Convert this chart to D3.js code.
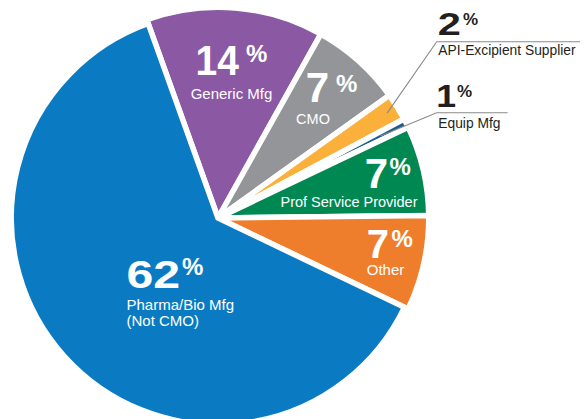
<!DOCTYPE html>
<html>
<head>
<meta charset="utf-8">
<script src="https://cdn.jsdelivr.net/npm/d3@7"></script>
<style>
  html, body { margin: 0; padding: 0; background: #fff; }
  svg { display: block; }
  text { font-family: "Liberation Sans", Arial, Helvetica, sans-serif; }
</style>
</head>
<body>
<svg id="chart" width="584" height="419"></svg>
<script>
// ---- data ----
const categories = ["Generic Mfg", "CMO", "API-Excipient Supplier", "Equip Mfg",
                    "Prof Service Provider", "Other", "Pharma/Bio Mfg (Not CMO)"];
const shares = [13.6, 7.0, 2.1, 0.7, 6.9, 7.3, 62.4];
const pctLabels = ["14", "7", "2", "1", "7", "7", "62"];
const nameLines = [["Generic Mfg"], ["CMO"], ["API-Excipient Supplier"], ["Equip Mfg"],
                   ["Prof Service Provider"], ["Other"], ["Pharma/Bio Mfg", "(Not CMO)"]];

// ---- styles / layout ----
const colors = ["#8B58A3", "#939598", "#FBB03B", "#1D5E8E", "#008852", "#EE7E2C", "#0A7BC2"];
const W = 584, H = 419;
const cx = 218, cy = 218;
const gap = 5.5;
const rMain = 204 + gap / 2;     // big slice
const rOther = 208 + gap / 2;    // remaining slices
const startDeg = -19.75;

// label placement (text annotations)
const labelLayout = [
  {num: {x: 239, y: 75, size: 42, sx: 0.93}, pct: {x: 246, y: 61.5, size: 24},
   name: {x: 231.5, y: 99.3, size: 15, anchor: "middle", lh: 15.5}, fill: "#fff"},
  {num: {x: 329, y: 101.7, size: 42, sx: 1.0}, pct: {x: 336, y: 91.5, size: 24},
   name: {x: 313, y: 124.3, size: 14.5, anchor: "middle", lh: 15.5}, fill: "#fff"},
  {num: {x: 461, y: 35, size: 32, sx: 1.3}, pct: {x: 463, y: 25, size: 17},
   name: {x: 438.3, y: 55, size: 13.8, anchor: "start", lh: 15}, fill: "#231F20",
   leader: {hx1: 436.7, hx2: 580, hy: 41.7, r: 199}},
  {num: {x: 456, y: 107, size: 31, sx: 1.15}, pct: {x: 457, y: 96.7, size: 17},
   name: {x: 438.3, y: 128.3, size: 13.8, anchor: "start", lh: 15}, fill: "#231F20",
   leader: {hx1: 436.7, hx2: 507.7, hy: 112.7, r: 182}},
  {num: {x: 388, y: 188, size: 42, sx: 1.0}, pct: {x: 389.5, y: 175, size: 24},
   name: {x: 349, y: 206.7, size: 14.5, anchor: "middle", lh: 15.5}, fill: "#fff"},
  {num: {x: 389, y: 258.3, size: 40, sx: 1.0}, pct: {x: 391.5, y: 246.5, size: 24},
   name: {x: 385.5, y: 275, size: 15, anchor: "middle", lh: 15.5}, fill: "#fff"},
  {num: {x: 180, y: 288.3, size: 39.5, sx: 1.22}, pct: {x: 182, y: 275, size: 24},
   name: {x: 126.5, y: 310, size: 15, anchor: "start", lh: 15.5}, fill: "#fff"}
];

const svg = d3.select("#chart");
const deg = Math.PI / 180;

const pie = d3.pie().sort(null).value(d => d.value)
  .startAngle(startDeg * deg).endAngle(startDeg * deg + 2 * Math.PI);

const data = categories.map((c, i) => ({cat: c, value: shares[i], i}));
const arcs = pie(data);

const arcGen = d3.arc().innerRadius(0)
  .outerRadius(d => d.data.i === 6 ? rMain : rOther);

const g = svg.append("g").attr("transform", `translate(${cx},${cy})`);

g.selectAll("path.slice")
  .data(arcs)
  .join("path")
  .attr("class", "slice")
  .attr("d", arcGen)
  .attr("fill", d => colors[d.data.i])
  .attr("stroke", "#fff")
  .attr("stroke-width", gap)
  .attr("stroke-linejoin", "miter");

// leader lines
arcs.forEach(a => {
  const L = labelLayout[a.data.i];
  if (!L.leader) return;
  const pt = d3.arc().innerRadius(L.leader.r).outerRadius(L.leader.r).centroid(a);
  svg.append("polyline")
    .attr("points", [[cx + pt[0], cy + pt[1]], [L.leader.hx1, L.leader.hy], [L.leader.hx2, L.leader.hy]]
      .map(p => p.join(",")).join(" "))
    .attr("fill", "none")
    .attr("stroke", "#8a8a8a")
    .attr("stroke-width", 1.1);
});

// labels
const lab = svg.append("g");
arcs.forEach(a => {
  const i = a.data.i;
  const L = labelLayout[i];
  lab.append("text")
    .attr("transform", `translate(${L.num.x},${L.num.y}) scale(${L.num.sx},1)`)
    .attr("text-anchor", "end")
    .attr("font-weight", "bold")
    .attr("font-size", L.num.size)
    .attr("fill", L.fill)
    .text(pctLabels[i]);
  lab.append("text")
    .attr("x", L.pct.x).attr("y", L.pct.y)
    .attr("text-anchor", "start")
    .attr("font-weight", "bold")
    .attr("font-size", L.pct.size)
    .attr("fill", L.fill)
    .text("%");
  const t = lab.append("text")
    .attr("text-anchor", L.name.anchor)
    .attr("font-size", L.name.size)
    .attr("fill", L.fill);
  nameLines[i].forEach((ln, k) => {
    t.append("tspan").attr("x", L.name.x).attr("y", L.name.y + k * L.name.lh).text(ln);
  });
});
</script>
</body>
</html>
